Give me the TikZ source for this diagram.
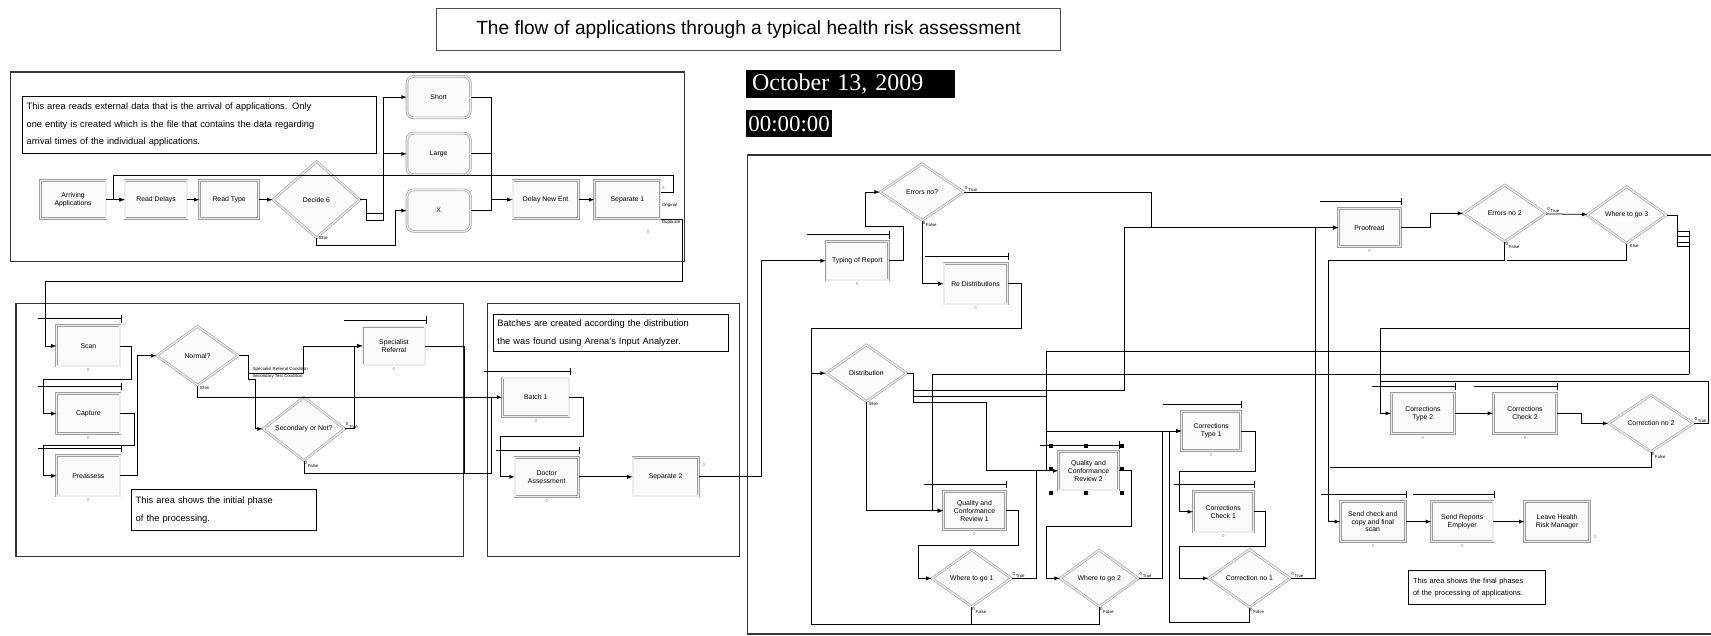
\documentclass[tikz,border=0pt]{standalone}
\usepackage{fontspec}
\setmainfont{Liberation Sans}
\newfontfamily\clockfont{Liberation Serif}
\usetikzlibrary{shapes.geometric,calc}

\newcommand\boxfont{\fontsize{6.3}{7.2}\selectfont}
\newcommand\notefont{\fontsize{8.5}{16}\selectfont}
\newcommand\tagfont{\fontsize{4}{4.5}\selectfont}

\tikzset{   proc/.style={draw=gray!75,double=gray!15,double distance=1.2pt,line width=0.6pt,fill=gray!4,
                minimum width=57pt,minimum height=35pt,inner sep=0.5pt,align=center,font=\boxfont},
            octo/.style={proc,rounded corners=6pt,minimum width=58pt,minimum height=38pt},
            dec/.style={diamond,draw=gray!70,double=gray!15,double distance=1.2pt,line width=0.6pt,fill=gray!3,
                inner sep=0pt,minimum width=76pt,minimum height=52pt,align=center,font=\boxfont},
            note/.style={draw,line width=0.8pt,anchor=north west,align=left,inner sep=4pt,font=\notefont},
            clock/.style={fill=black,text=white,inner sep=0pt,anchor=north west},
            panel/.style={draw=black!80,line width=1pt},
            conn/.style={line width=0.7pt,-latex},
            wire/.style={line width=0.7pt},
            qline/.style={line width=0.7pt,-|},
            cnt/.style={font=\tagfont,text=gray,inner sep=1pt},
            tag/.style={font=\tagfont,inner sep=0.5pt},
}

\begin{document}
\begin{tikzpicture}[x=1pt,y=-1pt]
    \useasboundingbox[fill=white] (0,0) rectangle (1568,582);

    \node[draw=black!70,line width=0.8pt,minimum width=572pt,minimum height=38pt,font=\fontsize{17.5}{19}\selectfont]
        (title) at (686,27) {The flow of applications through a typical health risk assessment};
    \node[clock,minimum width=191.5pt,minimum height=25.5pt,text width=181pt,align=left,inner xsep=5pt,
        font=\clockfont\fontsize{22}{24}\selectfont] (date) at (683.7,64) {October 13, 2009};
    \node[clock,minimum width=78.5pt,minimum height=25pt,font=\clockfont\fontsize{21}{23}\selectfont]
        (time) at (683.7,100.8) {00:00:00};

    \draw[panel] (10,66) rectangle (627,240);      % panels
    \draw[panel] (14.7,278) rectangle (424.6,510);
    \draw[panel] (446.6,278) rectangle (678,510);
    \draw[panel] (1580,142) -- (684.9,142) -- (684.9,581) -- (1580,581);

    % arrival area
    \node[note,text width=317pt,minimum height=52pt] (areaA) at (20,88)
        {This area reads external data that is the arrival of applications. Only\\
         one entity is created which is the file that contains the data regarding\\
         arrival times of the individual applications.};
    \node[proc,minimum width=60pt] (arrive) at (67,183) {Arriving\\Applications};
    \node[proc] (readdel) at (143,183) {Read Delays};
    \node[proc,minimum width=54pt] (readtyp) at (210,183) {Read Type};
    \node[dec,minimum width=80pt,minimum height=70pt] (dec6) at (290,183) {Decide 6};
    \node[octo] (short) at (402,89) {Short};
    \node[octo] (large) at (402,141) {Large};
    \node[octo] (xbox) at (402,193) {X};
    \node[proc,minimum width=60pt] (delnew) at (500,183) {Delay New Ent};
    \node[proc,minimum width=60pt] (sep1) at (575,183) {Separate 1};

    % initial phase
    \node[proc,minimum width=58pt,minimum height=37pt] (scan) at (81,317) {Scan};
    \node[proc,minimum width=58pt,minimum height=37pt] (capture) at (81,379) {Capture};
    \node[proc,minimum width=58pt,minimum height=37pt] (preassess) at (81,436) {Preassess};
    \node[dec,minimum width=75pt,minimum height=54pt] (normal) at (181,326) {Normal?};
    \node[proc] (spec) at (361,317) {Specialist\\Referral};
    \node[dec,minimum width=75pt,minimum height=50pt] (second) at (278.5,393) {Secondary or Not?};
    \node[note,text width=162pt,minimum height=38pt,font=\fontsize{8.5}{17}\selectfont] (areaB) at (120,448)
        {This area shows the initial phase\\of the processing.};

    % batching
    \node[note,text width=208pt,minimum height=34pt,font=\fontsize{8.5}{16}\selectfont] (areaC) at (451.5,288)
        {Batches are created according the distribution\\the was found using Arena's Input Analyzer.};
    \node[proc,minimum width=61pt] (batch1) at (491,364) {Batch 1};
    \node[proc,minimum width=58pt,minimum height=36pt] (doctor) at (501,437) {Doctor\\Assessment};
    \node[proc,minimum width=60pt] (sep2) at (610,437) {Separate 2};
    \node[cnt] (sep2-n) at (645,426) {0};

    % review and corrections
    \node[dec,minimum width=77pt] (errno1) at (845,176) {Errors no?};
    \node[proc] (typrep) at (785.6,239) {Typing of Report};
    \node[proc,minimum width=58pt,minimum height=37pt] (redist) at (894,260) {Re Distributions};
    \node[dec,minimum width=74pt] (distr) at (794,342) {Distribution};
    \node[proc] (qcr1) at (893,468) {Quality and\\Conformance\\Review 1};
    \node[dec,minimum width=73pt] (wtg1) at (890.5,530) {Where to go 1};
    \node[proc,minimum width=55pt] (qcr2) at (997.5,431.5) {Quality and\\Conformance\\Review 2};
    \node[dec,minimum width=72pt] (wtg2) at (1007.4,530) {Where to go 2};
    \node[proc,minimum width=54pt,minimum height=36pt] (ct1) at (1110,395) {Corrections\\Type 1};
    \node[proc,minimum width=55pt,minimum height=37pt] (cc1) at (1121,469) {Corrections\\Check 1};
    \node[dec,minimum width=75pt,minimum height=53pt] (corrno1) at (1145,530) {Correction no 1};
    \node[proc,minimum width=56.5pt] (proofread) at (1255,208.6) {Proofread};
    \node[dec] (errno2) at (1379,195.5) {Errors no 2};
    \node[dec,minimum width=73pt] (wtg3) at (1490.7,197) {Where to go 3};
    \node[proc,minimum width=58pt,minimum height=37pt] (ct2) at (1304,378.8) {Corrections\\Type 2};
    \node[proc,minimum width=58pt,minimum height=37pt] (cc2) at (1397.5,378.8) {Corrections\\Check 2};
    \node[dec,minimum width=78pt] (corrno2) at (1513,388) {Correction no 2};
    \node[proc,minimum width=59.6pt,minimum height=36.7pt] (sendchk) at (1258,478) {Send check and\\copy and final\\scan};
    \node[proc,minimum width=56.5pt,minimum height=36.7pt] (sendrep) at (1340,478) {Send Reports\\Employer};
    \node[proc,minimum width=59.5pt,minimum height=36.7pt] (leave) at (1427,478) {Leave Health\\Risk Manager};
    \node[cnt] (leave-n) at (1462,492) {0};
    \node[note,text width=117pt,minimum height=31pt,font=\fontsize{6.8}{11.5}\selectfont] (areaD) at (1290.6,522.4)
        {This area shows the final phases\\of the processing of applications.};

    % connectors, arrival area
    \draw[conn] (arrive) -- (readdel);
    \draw[conn] (readdel) -- (readtyp);
    \draw[conn] (readtyp) -- (dec6);
    \draw[conn] (dec6.east) -- (336,183) -- (336,195.4) -| (351.6,89) -- (short.west);
    \draw[conn] (336,195.4) -- (336,201.5) -| (351.6,141) -- (large.west);
    \draw[conn] (dec6.south) -- (290,225) -| (362,193) -- (xbox.west);
    \draw[wire] (short.east) -| (450.5,183);
    \draw[wire] (large.east) -| (450.5,183);
    \draw[conn] (xbox.east) -| (450.5,183) -- (delnew.west);
    \draw[conn] (delnew) -- (sep1);
    \draw[conn] (sep1.12) -| (617,161) -| (104,183) -- (readdel.west);
    \draw[conn] (sep1.south east) -| (625,258) -| (42,317) -- (scan.west);
    \node[tag,anchor=west] (sep1-o) at (606,188) {Original};
    \node[tag,anchor=west] (sep1-d) at (606,204) {Duplicate};
    \node[cnt] (sep1-n1) at (608,172) {0};
    \node[cnt] (sep1-n2) at (594,213) {0};
    \node[tag,anchor=north west] (dec6-e) at (292,216) {Else};

    % connectors, initial phase
    \draw[conn] (scan.east) -| (120,348) -| (40,379) -- (capture.west);
    \draw[conn] (capture.east) -| (123,408) -| (40,436) -- (preassess.west);
    \draw[conn] (preassess.east) -| (126,326) -- (normal.west);
    \draw[conn] (normal.east) -- (228,326) -- (228,342) -| (278,317) -- (spec.west);
    \draw[conn] (228,342) -- (228,348) -| (234,393) -- (second.west);
    \draw[conn] (second.east) -- (325,393) |- (spec.west);
    \draw[conn] (normal.south) |- (batch1.west);
    \draw[wire] (second.south) |- (450.6,434) -- (450.6,364);
    \draw[wire] (spec.east) -| (426,434);
    \node[tag,anchor=south west] (normal-c1) at (231,341) {Specialist Referral Condition};
    \node[tag,anchor=south west] (normal-c2) at (231,347.5) {Secondary Test Condition};
    \node[tag,anchor=north west] (normal-e) at (183,353) {Else};

    % connectors, batching
    \draw[conn] (batch1.east) -| (534.6,399.6) -| (459,437) -- (doctor.west);
    \draw[conn] (doctor) -- (sep2);
    \draw[conn] (sep2.east) -| (698,239) -- (typrep.west);

    % connectors, review and corrections
    \draw[conn] (typrep.east) -| (828,207.8) -| (792.8,176) -- (errno1.west);
    \draw[wire] (errno1.east) -| (1055.5,208);
    \draw[conn] (errno1.south) |- (redist.west);
    \draw[conn] (redist.east) -| (936.3,301) -| (744,342) -- (distr.west);
    \draw[conn] (distr.south) |- (qcr1.west);
    \draw[wire] (distr.east) -- (837,342) -- (837,369);
    \draw[conn] (837,357.5) -| (1030,208.6) -- (proofread.west);
    \draw[wire] (837,363) -| (959,431.5);
    \draw[conn] (837,369) -| (904,431.5) -- (qcr2.west);
    \draw[conn] (qcr1.east) -| (933,499.5) -| (841.6,530) -- (wtg1.west);
    \draw[wire] (wtg1.east) -| (950,431.5);
    \draw[wire] (wtg1.south) |- (744,572) -- (744,342);
    \draw[wire] (wtg2.south) |- (890.5,572);
    \draw[conn] (qcr2.east) -| (1037,482) -| (958.7,530) -- (wtg2.west);
    \draw[wire] (wtg2.east) -| (1065,395);
    \draw[conn] (ct1.east) -| (1150,432.3) -| (1081,469) -- (cc1.west);
    \draw[conn] (cc1.east) -| (1160,501) -| (1081,530) -- (corrno1.west);
    \draw[conn] (corrno1.south) |- (1072,570) |- (ct1.west);
    \draw[conn] (corrno1.east) -| (1205,208.6) -- (proofread.west);
    \draw[conn] (proofread.east) -| (1310.5,195.5) -- (errno2.west);
    \draw[conn] (errno2) -- (wtg3);
    \draw[conn] (errno2.south) |- (1217.3,238.3) |- (sendchk.west);
    \draw[wire] (wtg3.south) |- (1381,238.3);
    \draw[wire] (wtg3.east) -- (1537,197) -- (1537,226);
    \foreach \yy in {212,217,222,226} \draw[wire] (1537,\yy) -- (1549,\yy);
    \draw[wire] (1548,212) -- (1548,343);
    \draw[conn] (1548,301) -| (1264.7,378.8) -- (ct2.west);
    \draw[conn] (1548,322.3) -| (959,395) -- (ct1.west);
    \draw[conn] (1548,342.8) -| (854,468) -- (qcr1.west);
    \draw[conn] (ct2) -- (cc2);
    \draw[conn] (cc2.east) -| (1449.5,388) -- (corrno2.west);
    \draw[wire] (corrno2.east) -| (1566,349.8) -- (1264.7,349.8);
    \draw[wire] (corrno2.south) |- (1219,428.6);
    \draw[conn] (sendchk) -- (sendrep);
    \draw[conn] (sendrep) -- (leave);
    \node[tag,anchor=north west] (distr-e) at (796,368) {Else};
    \node[tag,anchor=north west] (wtg3-e) at (1493,223) {Else};

    \foreach \hx/\hy in {963/408.8,995.5/408.8,1028/408.8,1028/430,1028/451.5,995.5/451.5,963/451.5,963/430}
        \fill (\hx-2,\hy-2) rectangle ++(4,4);   % selection handles

    % queues and counters
    \foreach \b in {scan,capture,preassess,spec,batch1,doctor,typrep,redist,qcr1,qcr2,ct1,cc1,proofread,ct2,cc2,sendchk,sendrep} {
        \draw[qline] ($(\b.north west)+(-17,-6)$) -- ($(\b.north east)+(1,-6)$);
        \node[cnt,below=1pt] (\b-n) at (\b.south) {0};
    }
    \foreach \d in {second,errno1,wtg1,wtg2,corrno1,errno2,corrno2} {
        \node[tag,above right] (\d-t) at (\d.east) {0\raisebox{-2pt}{\,True}};
        \node[tag,below right] (\d-f) at (\d.south) {0\raisebox{-2pt}{\,False}};
    }
\end{tikzpicture}
\end{document}
